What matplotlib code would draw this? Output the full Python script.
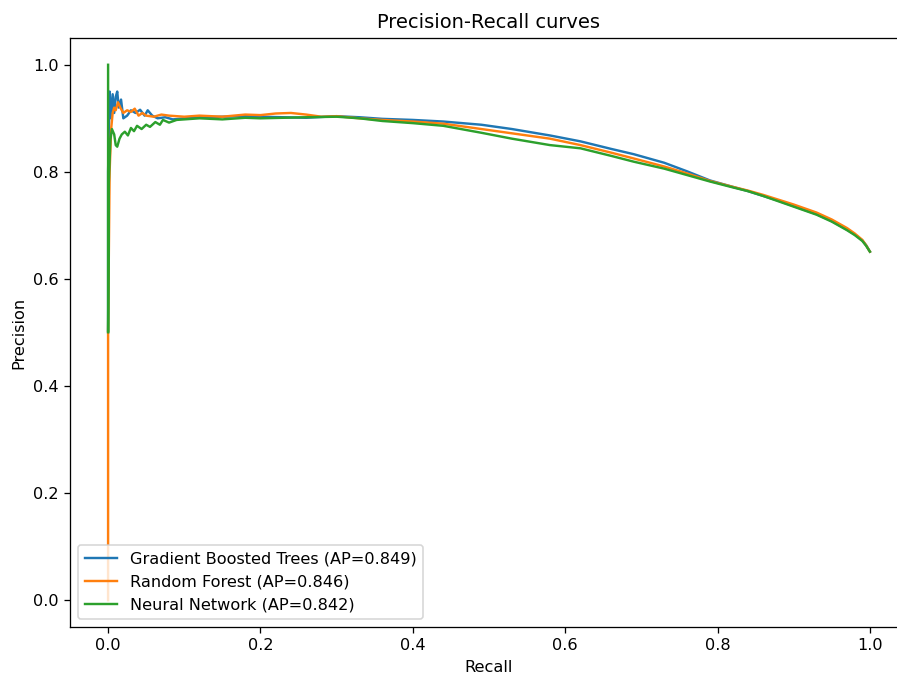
import matplotlib
matplotlib.use("Agg")
import matplotlib.pyplot as plt

# values
gbt_recall = [0.0, 0.0, 0.002, 0.004, 0.006, 0.008, 0.010, 0.012, 0.014, 0.017, 0.020,
              0.025, 0.030, 0.036, 0.042, 0.048, 0.052, 0.058, 0.065, 0.075, 0.085,
              0.10, 0.12, 0.15, 0.18, 0.20, 0.23, 0.26, 0.30, 0.33, 0.36, 0.40,
              0.44, 0.49, 0.53, 0.58, 0.62, 0.66, 0.69, 0.73, 0.76, 0.79, 0.82,
              0.84, 0.86, 0.88, 0.90, 0.93, 0.95, 0.97, 0.98, 0.99, 0.995, 1.0]
gbt_precision = [0.50, 0.80, 0.95, 0.90, 0.945, 0.91, 0.94, 0.95, 0.92, 0.935, 0.90,
                 0.905, 0.915, 0.91, 0.916, 0.905, 0.915, 0.905, 0.90, 0.902, 0.898,
                 0.900, 0.902, 0.903, 0.904, 0.903, 0.902, 0.901, 0.904, 0.902, 0.899, 0.897,
                 0.894, 0.888, 0.880, 0.868, 0.857, 0.843, 0.833, 0.817, 0.801, 0.784, 0.772,
                 0.764, 0.755, 0.746, 0.736, 0.721, 0.708, 0.692, 0.683, 0.672, 0.663, 0.651]

rf_recall = [0.0, 0.0, 0.002, 0.004, 0.006, 0.008, 0.010, 0.013, 0.016, 0.020, 0.025,
             0.030, 0.035, 0.040, 0.045, 0.050, 0.060, 0.070, 0.080, 0.10, 0.12,
             0.15, 0.18, 0.20, 0.22, 0.24, 0.26, 0.28, 0.30, 0.33, 0.36, 0.40,
             0.44, 0.49, 0.53, 0.58, 0.62, 0.66, 0.69, 0.73, 0.76, 0.79, 0.82,
             0.84, 0.86, 0.88, 0.90, 0.93, 0.95, 0.97, 0.98, 0.99, 0.995, 1.0]
rf_precision = [0.0, 0.50, 0.80, 0.88, 0.91, 0.92, 0.915, 0.93, 0.92, 0.91, 0.915,
                0.912, 0.918, 0.905, 0.91, 0.905, 0.903, 0.907, 0.905, 0.903, 0.905,
                0.903, 0.907, 0.906, 0.909, 0.910, 0.907, 0.903, 0.904, 0.900, 0.897, 0.894,
                0.890, 0.880, 0.872, 0.862, 0.850, 0.836, 0.825, 0.810, 0.797, 0.783, 0.772,
                0.765, 0.757, 0.748, 0.739, 0.724, 0.711, 0.695, 0.685, 0.673, 0.663, 0.651]

nn_recall = [0.0, 0.0, 0.001, 0.003, 0.005, 0.008, 0.010, 0.012, 0.015, 0.018, 0.022,
             0.026, 0.030, 0.034, 0.038, 0.044, 0.050, 0.055, 0.062, 0.068, 0.072,
             0.080, 0.09, 0.10, 0.12, 0.15, 0.18, 0.20, 0.23, 0.26, 0.30, 0.33,
             0.36, 0.40, 0.44, 0.49, 0.53, 0.58, 0.62, 0.66, 0.69, 0.73, 0.76,
             0.79, 0.82, 0.84, 0.86, 0.88, 0.90, 0.93, 0.95, 0.97, 0.98, 0.99, 0.995, 1.0]
nn_precision = [1.0, 0.50, 0.78, 0.86, 0.88, 0.87, 0.85, 0.847, 0.862, 0.87, 0.875,
                0.868, 0.882, 0.876, 0.886, 0.88, 0.888, 0.884, 0.893, 0.888, 0.897,
                0.892, 0.897, 0.898, 0.900, 0.898, 0.901, 0.900, 0.901, 0.902, 0.903, 0.900,
                0.895, 0.891, 0.886, 0.873, 0.862, 0.850, 0.844, 0.830, 0.819, 0.806, 0.794,
                0.782, 0.771, 0.764, 0.755, 0.745, 0.735, 0.720, 0.707, 0.691, 0.682, 0.671,
                0.662, 0.651]

curves = [
    ("Gradient Boosted Trees", 0.849, gbt_recall, gbt_precision),
    ("Random Forest", 0.846, rf_recall, rf_precision),
    ("Neural Network", 0.842, nn_recall, nn_precision),
]

DPI = 116
fig = plt.figure(figsize=(897 / DPI, 677 / DPI), dpi=DPI)
# the reference is cropped on the right, so the axes run past the figure edge
ax = fig.add_axes([70 / 897, 50 / 677, 838 / 897, 589 / 677])

for name, ap, rec, prec in curves:
    ax.plot(rec, prec, label=f"{name} (AP={ap:.3f})")

ax.set_xlim(-0.05, 1.05)
ax.set_ylim(-0.05, 1.05)
ax.set_xlabel("Recall")
ax.set_ylabel("Precision")
ax.set_title("Precision-Recall curves")
ax.legend(loc="lower left")

fig.savefig("out.png", dpi=DPI)
